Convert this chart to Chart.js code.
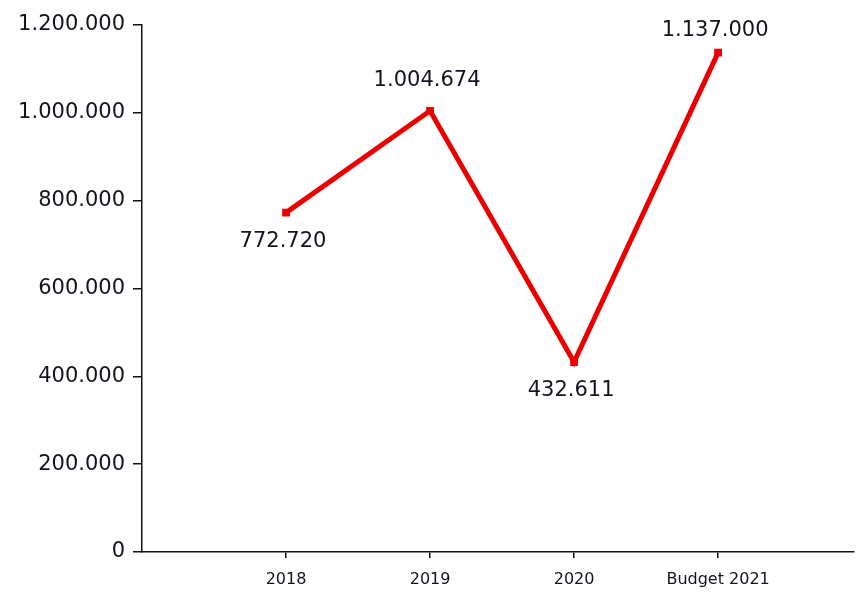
<!DOCTYPE html>
<html>
<head>
<meta charset="utf-8">
<script src="https://cdn.jsdelivr.net/npm/chart.js@4"></script>
<style>
  html, body { margin: 0; padding: 0; background: #fff; }
  #wrap { width: 859px; height: 592px; }
</style>
</head>
<body>
<div id="wrap"><canvas id="chart" width="859" height="592"></canvas></div>
<script>
const categories = ['2018', '2019', '2020', 'Budget 2021'];
const values = [772720, 1004674, 432611, 1137000];
const labelSide = ['below', 'above', 'below', 'above'];
const yTicks = [0, 200000, 400000, 600000, 800000, 1000000, 1200000];

function fmt(v) {
  return String(Math.round(v)).replace(/\B(?=(\d{3})+(?!\d))/g, '.');
}

const valueLabels = {
  id: 'valueLabels',
  afterDatasetsDraw(chart) {
    const ctx = chart.ctx;
    const meta = chart.getDatasetMeta(0);
    ctx.save();
    ctx.font = '21px "DejaVu Sans"';
    ctx.fillStyle = '#14141e';
    ctx.textAlign = 'center';
    ctx.textBaseline = 'middle';
    meta.data.forEach((pt, i) => {
      let y = labelSide[i] === 'above' ? pt.y - 30 : pt.y + 29;
      if (y < 31) y = 31;
      ctx.fillText(fmt(values[i]), pt.x - 3, y);
    });
    ctx.restore();
  }
};

new Chart(document.getElementById('chart').getContext('2d'), {
  type: 'line',
  data: {
    datasets: [{
      data: values.map((v, i) => ({ x: i + 1, y: v })),
      borderColor: 'rgb(235,0,0)',
      backgroundColor: 'rgb(235,0,0)',
      borderWidth: 5,
      pointStyle: 'rect',
      pointRadius: 5.5,
      pointBorderWidth: 0,
      fill: false,
      tension: 0
    }]
  },
  options: {
    responsive: false,
    animation: false,
    layout: { padding: { top: 25, right: 0, bottom: 0, left: 0 } },
    plugins: { legend: { display: false }, tooltip: { enabled: false } },
    scales: {
      x: {
        type: 'linear',
        min: 0,
        max: 4.94,
        afterFit: (s) => { s.height = 40; },
        afterBuildTicks: (s) => { s.ticks = categories.map((c, i) => ({ value: i + 1 })); },
        ticks: {
          callback: (v) => categories[v - 1] || '',
          font: { family: 'DejaVu Sans', size: 16 },
          color: '#14141e',
          padding: 12,
          maxRotation: 0,
          autoSkip: false
        },
        grid: { display: true, drawOnChartArea: false, tickLength: 6, color: '#111', lineWidth: 1.5 },
        border: { color: '#111', width: 1.5 }
      },
      y: {
        min: 0,
        max: 1200000,
        afterFit: (s) => { s.width = 142; },
        afterBuildTicks: (s) => { s.ticks = yTicks.map(v => ({ value: v })); },
        ticks: {
          callback: (v) => fmt(v),
          font: { family: 'DejaVu Sans', size: 21 },
          color: '#14141e',
          padding: 8
        },
        grid: { display: true, drawOnChartArea: false, tickLength: 9, color: '#111', lineWidth: 1.5 },
        border: { color: '#111', width: 1.5 }
      }
    }
  },
  plugins: [valueLabels]
});
</script>
</body>
</html>
